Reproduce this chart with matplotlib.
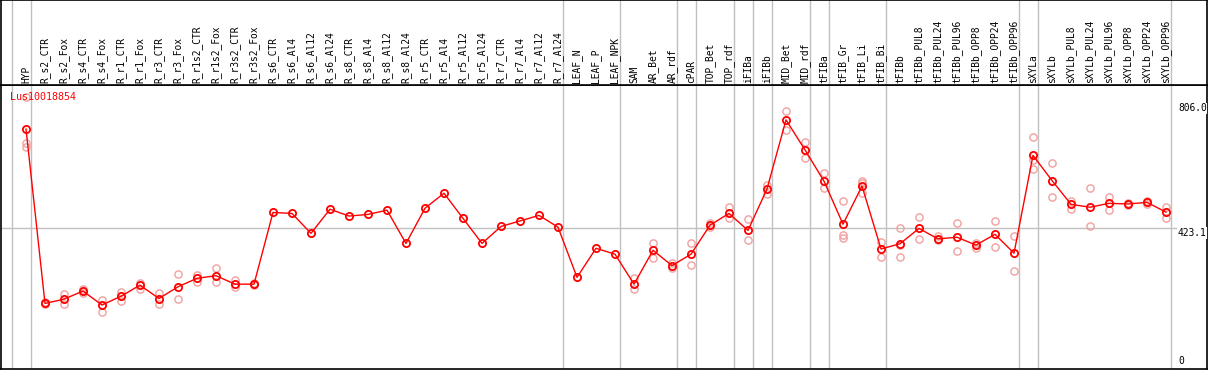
import matplotlib
matplotlib.use("Agg")
import matplotlib.pyplot as plt

GENE = "Lus10018854"

SAMPLES = [
    "HYP", "R_s2_CTR", "R_s2_Fox", "R_s4_CTR", "R_s4_Fox", "R_r1_CTR", "R_r1_Fox",
    "R_r3_CTR", "R_r3_Fox", "R_r1s2_CTR", "R_r1s2_Fox", "R_r3s2_CTR", "R_r3s2_Fox",
    "R_s6_CTR", "R_s6_Al4", "R_s6_Al12", "R_s6_Al24", "R_s8_CTR", "R_s8_Al4",
    "R_s8_Al12", "R_s8_Al24", "R_r5_CTR", "R_r5_Al4", "R_r5_Al12", "R_r5_Al24",
    "R_r7_CTR", "R_r7_Al4", "R_r7_Al12", "R_r7_Al24", "LEAF_N", "LEAF_P", "LEAF_NPK",
    "SAM", "AR_Bet", "AR_rdf", "cPAR", "TOP_Bet", "TOP_rdf", "iFIBa", "iFIBb",
    "MID_Bet", "MID_rdf", "tFIBa", "tFIB_Gr", "tFIB_Li", "tFIB_Bi", "tFIBb",
    "tFIBb_PUL8", "tFIBb_PUL24", "tFIBb_PUL96", "tFIBb_OPP8", "tFIBb_OPP24",
    "tFIBb_OPP96", "sXYLa", "sXYLb", "sXYLb_PUL8", "sXYLb_PUL24", "sXYLb_PUL96",
    "sXYLb_OPP8", "sXYLb_OPP24", "sXYLb_OPP96",
]

# mean expression per sample
MEANS = [
    727, 192, 205, 230, 187, 214, 248, 207, 243, 269, 277, 251, 251,
    471, 468, 407, 481, 460, 465, 478, 376, 484, 530, 453, 376,
    428, 445, 462, 426, 272, 361, 343,
    251, 355, 308, 343, 432, 468, 416, 543,
    755, 663, 567, 435, 552, 359, 375,
    422, 390, 395, 371, 404, 346,
    646, 569, 496, 487, 499, 497, 502, 472,
]

# individual replicates (empty where none are visible apart from the mean)
REPLICATES = [
    [826, 685, 671], [190, 195], [220, 190], [237, 223], [202, 167], [228, 199],
    [256, 236], [225, 191], [281, 207], [279, 259], [300, 259], [264, 241], [248, 255],
    [], [], [], [], [], [], [], [], [], [], [], [],
    [], [], [], [], [], [], [],
    [269, 235], [376, 332], [315, 302], [376, 310], [440, 425], [489, 453], [450, 386],
    [556, 528],
    [782, 724], [686, 637], [591, 545], [506, 402, 394], [568, 562, 532], [379, 333],
    [422, 333, 370],
    [456, 390], [399, 386], [438, 352], [378, 363], [445, 364], [399, 292],
    [701, 632, 603], [622, 517], [507, 482], [545, 429], [519, 479], [500, 493],
    [506, 498], [489, 453],
]

# index of the last sample of each group (separator drawn after it)
GROUP_ENDS = [-1, 0, 28, 31, 34, 35, 37, 38, 39, 41, 42, 45, 52, 53, 60]

Y_TICKS = [806.0, 423.1, 0]
Y_TICK_LABELS = ["806.0", "423.1", "0"]

W, H = 1209, 370
fig = plt.figure(figsize=(W / 100, H / 100), dpi=100)
mono = "DejaVu Sans Mono"
grey = "#c0c0c0"


def px_box(left, top, right, bottom):
    return [left / W, 1 - bottom / H, (right - left) / W, (bottom - top) / H]


xlim = ((1 - 26) / 19, (1207 - 26) / 19)

ax = fig.add_axes(px_box(1, 85, 1207, 369))
head = fig.add_axes(px_box(1, 0, 1207, 85), sharex=ax)

ax.set_xlim(*xlim)
ax.set_ylim(-9.2, 862)
head.set_ylim(0, 1)

for a in (ax, head):
    a.set_xticks([])
    a.set_yticks([])
    for s in a.spines.values():
        s.set_color("black")
        s.set_linewidth(1.2)
    for g in GROUP_ENDS:
        a.axvline(g + 0.24, color=grey, lw=1, zorder=0)

ax.axhline(Y_TICKS[1], color=grey, lw=1, zorder=0)

xs = list(range(len(SAMPLES)))
rx, ry = [], []
for i, reps in enumerate(REPLICATES):
    for r in reps:
        rx.append(i)
        ry.append(r)
ax.plot(rx, ry, ls="none", marker="o", ms=5.2, mfc="none", mec="#f0a0a0",
        mew=1.0, zorder=2)
ax.plot(xs, MEANS, color="red", lw=1.0, marker="o", ms=5.2, mfc="none",
        mec="red", mew=1.3, zorder=3)

for i, name in enumerate(SAMPLES):
    head.text(i, 0.025, name, rotation=90, ha="center", va="bottom",
              family=mono, fontsize=6.9, color="black")

for val, lab in zip(Y_TICKS, Y_TICK_LABELS):
    va = "bottom" if val == 0 else "top"
    ax.text(60.63, val, lab, ha="left", va=va, family=mono, fontsize=6.9,
            color="black", clip_on=True, zorder=4,
            bbox=dict(facecolor="white", edgecolor="none", pad=0.5))

ax.text(0.0075, 0.958, GENE, transform=ax.transAxes, ha="left", va="center",
        family=mono, fontsize=7.2, color="red", zorder=5)

fig.savefig("out.png", dpi=100)
